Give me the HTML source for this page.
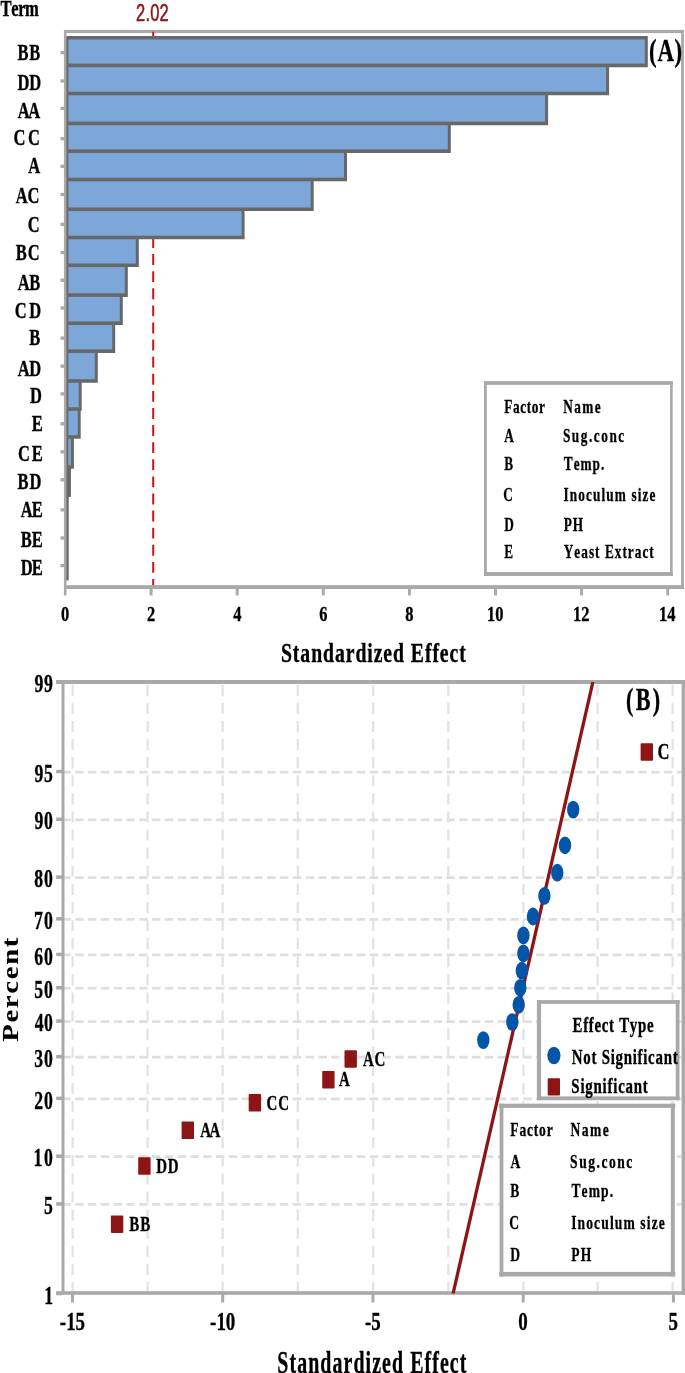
<!DOCTYPE html>
<html lang="en"><head><meta charset="utf-8"><title>Pareto chart and normal plot of standardized effects</title>
<style>
html,body{margin:0;padding:0;background:#fff;}
body{width:685px;height:1373px;overflow:hidden;}
svg{display:block;font-family:"Liberation Serif", serif;font-kerning:none;}
</style></head><body>
<svg width="685" height="1373" viewBox="0 0 685 1373">
<rect width="685" height="1373" fill="#fff"/>
<g id="chartA">
<rect x="64.00" y="29.90" width="620.00" height="3.20" fill="#a9a9a9"/>
<rect x="64.00" y="585.15" width="620.00" height="3.90" fill="#a9a9a9"/>
<rect x="63.90" y="30.00" width="2.60" height="565.50" fill="#a9a9a9"/>
<rect x="681.10" y="30.00" width="2.80" height="559.00" fill="#a9a9a9"/>
<line x1="153.2" y1="31.8" x2="153.2" y2="585.2" stroke="#d0121a" stroke-width="2" stroke-dasharray="10.9 6.2"/>
<rect x="60.50" y="51.05" width="4.00" height="3.30" fill="#a9a9a9"/>
<rect x="60.50" y="79.25" width="4.00" height="3.30" fill="#a9a9a9"/>
<rect x="60.50" y="106.75" width="4.00" height="3.30" fill="#a9a9a9"/>
<rect x="60.50" y="137.05" width="4.00" height="3.30" fill="#a9a9a9"/>
<rect x="60.50" y="164.65" width="4.00" height="3.30" fill="#a9a9a9"/>
<rect x="60.50" y="192.85" width="4.00" height="3.30" fill="#a9a9a9"/>
<rect x="60.50" y="222.75" width="4.00" height="3.30" fill="#a9a9a9"/>
<rect x="60.50" y="250.85" width="4.00" height="3.30" fill="#a9a9a9"/>
<rect x="60.50" y="278.55" width="4.00" height="3.30" fill="#a9a9a9"/>
<rect x="60.50" y="306.35" width="4.00" height="3.30" fill="#a9a9a9"/>
<rect x="60.50" y="336.45" width="4.00" height="3.30" fill="#a9a9a9"/>
<rect x="60.50" y="364.55" width="4.00" height="3.30" fill="#a9a9a9"/>
<rect x="60.50" y="392.25" width="4.00" height="3.30" fill="#a9a9a9"/>
<rect x="60.50" y="422.15" width="4.00" height="3.30" fill="#a9a9a9"/>
<rect x="60.50" y="450.15" width="4.00" height="3.30" fill="#a9a9a9"/>
<rect x="60.50" y="478.15" width="4.00" height="3.30" fill="#a9a9a9"/>
<rect x="60.50" y="508.15" width="4.00" height="3.30" fill="#a9a9a9"/>
<rect x="60.50" y="536.35" width="4.00" height="3.30" fill="#a9a9a9"/>
<rect x="60.50" y="563.95" width="4.00" height="3.30" fill="#a9a9a9"/>
<text transform="translate(60.90,621.00) scale(0.76,1)" font-size="21.6" font-weight="bold" fill="#000" stroke="#000" stroke-width="0.32" vector-effect="non-scaling-stroke">0</text>
<rect x="149.65" y="586.00" width="2.90" height="9.50" fill="#a9a9a9"/>
<text transform="translate(147.00,621.00) scale(0.76,1)" font-size="21.6" font-weight="bold" fill="#000" stroke="#000" stroke-width="0.32" vector-effect="non-scaling-stroke">2</text>
<rect x="235.75" y="586.00" width="2.90" height="9.50" fill="#a9a9a9"/>
<text transform="translate(233.14,621.00) scale(0.76,1)" font-size="21.6" font-weight="bold" fill="#000" stroke="#000" stroke-width="0.32" vector-effect="non-scaling-stroke">4</text>
<rect x="321.85" y="586.00" width="2.90" height="9.50" fill="#a9a9a9"/>
<text transform="translate(319.16,621.00) scale(0.76,1)" font-size="21.6" font-weight="bold" fill="#000" stroke="#000" stroke-width="0.32" vector-effect="non-scaling-stroke">6</text>
<rect x="407.95" y="586.00" width="2.90" height="9.50" fill="#a9a9a9"/>
<text transform="translate(405.30,621.00) scale(0.76,1)" font-size="21.6" font-weight="bold" fill="#000" stroke="#000" stroke-width="0.32" vector-effect="non-scaling-stroke">8</text>
<rect x="494.05" y="586.00" width="2.90" height="9.50" fill="#a9a9a9"/>
<text transform="translate(486.95,621.00) scale(0.76,1)" font-size="21.6" font-weight="bold" fill="#000" stroke="#000" stroke-width="0.32" vector-effect="non-scaling-stroke">10</text>
<rect x="580.15" y="586.00" width="2.90" height="9.50" fill="#a9a9a9"/>
<text transform="translate(573.09,621.00) scale(0.76,1)" font-size="21.6" font-weight="bold" fill="#000" stroke="#000" stroke-width="0.32" vector-effect="non-scaling-stroke">12</text>
<rect x="666.25" y="586.00" width="2.90" height="9.50" fill="#a9a9a9"/>
<text transform="translate(658.99,621.00) scale(0.76,1)" font-size="21.6" font-weight="bold" fill="#000" stroke="#000" stroke-width="0.32" vector-effect="non-scaling-stroke">14</text>
<path d="M66.3,35.90H647.80V67.20H609.10V95.30H548.10V125.20H450.80V153.00H347.00V181.30H313.70V211.10H244.60V239.30H138.80V267.10H127.80V296.90H122.80V325.00H115.20V353.00H97.80V382.80H81.70V410.80H80.70V438.80H73.90V468.80H70.90V497.00H68.70V525.30H68.70V553.80H68.70V580.50H66.3Z" fill="#686868"/>
<rect x="68.40" y="39.50" width="576.40" height="24.10" fill="#7da7d9"/>
<rect x="68.40" y="67.20" width="537.70" height="24.50" fill="#7da7d9"/>
<rect x="68.40" y="95.30" width="476.70" height="26.30" fill="#7da7d9"/>
<rect x="68.40" y="125.20" width="379.40" height="24.20" fill="#7da7d9"/>
<rect x="68.40" y="153.00" width="275.60" height="24.70" fill="#7da7d9"/>
<rect x="68.40" y="181.30" width="242.30" height="26.20" fill="#7da7d9"/>
<rect x="68.40" y="211.10" width="173.20" height="24.60" fill="#7da7d9"/>
<rect x="68.40" y="239.30" width="67.40" height="24.20" fill="#7da7d9"/>
<rect x="68.40" y="267.10" width="56.40" height="26.20" fill="#7da7d9"/>
<rect x="68.40" y="296.90" width="51.40" height="24.50" fill="#7da7d9"/>
<rect x="68.40" y="325.00" width="43.80" height="24.40" fill="#7da7d9"/>
<rect x="68.40" y="353.00" width="26.40" height="26.20" fill="#7da7d9"/>
<rect x="68.40" y="382.80" width="10.30" height="24.40" fill="#7da7d9"/>
<rect x="68.40" y="410.80" width="9.30" height="24.40" fill="#7da7d9"/>
<rect x="68.40" y="438.80" width="2.50" height="26.40" fill="#7da7d9"/>
<text transform="translate(17.53,59.90) scale(0.7,1)" font-size="23.6" font-weight="bold" fill="#000" stroke="#000" stroke-width="0.32" vector-effect="non-scaling-stroke" letter-spacing="0.852">BB</text>
<text transform="translate(17.51,90.20) scale(0.7,1)" font-size="23.6" font-weight="bold" fill="#000" stroke="#000" stroke-width="0.32" vector-effect="non-scaling-stroke" letter-spacing="-0.091">DD</text>
<text transform="translate(17.64,117.60) scale(0.7,1)" font-size="23.6" font-weight="bold" fill="#000" stroke="#000" stroke-width="0.32" vector-effect="non-scaling-stroke" letter-spacing="-1.826">AA</text>
<text transform="translate(13.39,145.30) scale(0.7,1)" font-size="23.6" font-weight="bold" fill="#000" stroke="#000" stroke-width="0.32" vector-effect="non-scaling-stroke" letter-spacing="3.864">CC</text>
<text transform="translate(28.29,173.20) scale(0.7,1)" font-size="23.6" font-weight="bold" fill="#000" stroke="#000" stroke-width="0.32" vector-effect="non-scaling-stroke">A</text>
<text transform="translate(15.84,203.40) scale(0.7,1)" font-size="23.6" font-weight="bold" fill="#000" stroke="#000" stroke-width="0.32" vector-effect="non-scaling-stroke" letter-spacing="-0.201">AC</text>
<text transform="translate(27.63,231.60) scale(0.7,1)" font-size="23.6" font-weight="bold" fill="#000" stroke="#000" stroke-width="0.32" vector-effect="non-scaling-stroke">C</text>
<text transform="translate(15.73,259.50) scale(0.7,1)" font-size="23.6" font-weight="bold" fill="#000" stroke="#000" stroke-width="0.32" vector-effect="non-scaling-stroke" letter-spacing="1.262">BC</text>
<text transform="translate(17.64,289.70) scale(0.7,1)" font-size="23.6" font-weight="bold" fill="#000" stroke="#000" stroke-width="0.32" vector-effect="non-scaling-stroke" letter-spacing="-0.611">AB</text>
<text transform="translate(14.79,317.60) scale(0.7,1)" font-size="23.6" font-weight="bold" fill="#000" stroke="#000" stroke-width="0.32" vector-effect="non-scaling-stroke" letter-spacing="3.790">CD</text>
<text transform="translate(29.14,345.30) scale(0.7,1)" font-size="23.6" font-weight="bold" fill="#000" stroke="#000" stroke-width="0.32" vector-effect="non-scaling-stroke">B</text>
<text transform="translate(17.64,375.50) scale(0.7,1)" font-size="23.6" font-weight="bold" fill="#000" stroke="#000" stroke-width="0.32" vector-effect="non-scaling-stroke" letter-spacing="-0.275">AD</text>
<text transform="translate(29.98,403.20) scale(0.7,1)" font-size="23.6" font-weight="bold" fill="#000" stroke="#000" stroke-width="0.32" vector-effect="non-scaling-stroke">D</text>
<text transform="translate(31.73,431.30) scale(0.7,1)" font-size="23.6" font-weight="bold" fill="#000" stroke="#000" stroke-width="0.32" vector-effect="non-scaling-stroke">E</text>
<text transform="translate(17.99,461.30) scale(0.7,1)" font-size="23.6" font-weight="bold" fill="#000" stroke="#000" stroke-width="0.32" vector-effect="non-scaling-stroke" letter-spacing="2.578">CE</text>
<text transform="translate(17.53,489.00) scale(0.7,1)" font-size="23.6" font-weight="bold" fill="#000" stroke="#000" stroke-width="0.32" vector-effect="non-scaling-stroke" letter-spacing="1.189">BD</text>
<text transform="translate(20.74,517.10) scale(0.7,1)" font-size="23.6" font-weight="bold" fill="#000" stroke="#000" stroke-width="0.32" vector-effect="non-scaling-stroke" letter-spacing="-1.344">AE</text>
<text transform="translate(20.83,546.80) scale(0.7,1)" font-size="23.6" font-weight="bold" fill="#000" stroke="#000" stroke-width="0.32" vector-effect="non-scaling-stroke" letter-spacing="-0.166">BE</text>
<text transform="translate(20.81,575.20) scale(0.7,1)" font-size="23.6" font-weight="bold" fill="#000" stroke="#000" stroke-width="0.32" vector-effect="non-scaling-stroke" letter-spacing="-1.445">DE</text>
<text transform="translate(0.54,15.70) scale(0.7,1)" font-size="23.6" font-weight="bold" fill="#000" stroke="#000" stroke-width="0.32" vector-effect="non-scaling-stroke" letter-spacing="-0.526">Term</text>
<text transform="translate(136.07,21.00) scale(0.7,1)" font-size="23.6" font-weight="normal" fill="#8e1515" stroke="#8e1515" stroke-width="0.5" vector-effect="non-scaling-stroke" font-family='"Liberation Sans", sans-serif' letter-spacing="0.242">2.02</text>
<text transform="translate(649.10,60.60) scale(0.72,1)" font-size="31.7" font-weight="bold" fill="#000" stroke="#000" stroke-width="0.32" vector-effect="non-scaling-stroke" letter-spacing="0.988">(A)</text>
<text transform="translate(280.95,662.20) scale(0.7,1)" font-size="28.2" font-weight="bold" fill="#000" stroke="#000" stroke-width="0.32" vector-effect="non-scaling-stroke" letter-spacing="1.319">Standardized Effect</text>
<rect x="485.4" y="383" width="186" height="191" fill="#fff"/>
<rect x="484.00" y="381.15" width="188.80" height="3.70" fill="#a9a9a9"/>
<rect x="484.00" y="572.05" width="188.80" height="3.90" fill="#a9a9a9"/>
<rect x="484.00" y="381.20" width="2.80" height="194.80" fill="#a9a9a9"/>
<rect x="670.10" y="381.20" width="2.60" height="194.80" fill="#a9a9a9"/>
<text transform="translate(504.27,412.50) scale(0.7,1)" font-size="19" font-weight="bold" fill="#000" stroke="#000" stroke-width="0.25" vector-effect="non-scaling-stroke" letter-spacing="0.844">Factor</text>
<text transform="translate(563.35,412.50) scale(0.7,1)" font-size="19" font-weight="bold" fill="#000" stroke="#000" stroke-width="0.25" vector-effect="non-scaling-stroke" letter-spacing="1.934">Name</text>
<text transform="translate(504.37,442.40) scale(0.7,1)" font-size="19" font-weight="bold" fill="#000" stroke="#000" stroke-width="0.25" vector-effect="non-scaling-stroke">A</text>
<text transform="translate(562.89,442.40) scale(0.7,1)" font-size="19" font-weight="bold" fill="#000" stroke="#000" stroke-width="0.25" vector-effect="non-scaling-stroke" letter-spacing="2.208">Sug.conc</text>
<text transform="translate(504.28,469.80) scale(0.7,1)" font-size="19" font-weight="bold" fill="#000" stroke="#000" stroke-width="0.25" vector-effect="non-scaling-stroke">B</text>
<text transform="translate(563.79,469.80) scale(0.7,1)" font-size="19" font-weight="bold" fill="#000" stroke="#000" stroke-width="0.25" vector-effect="non-scaling-stroke" letter-spacing="1.399">Temp.</text>
<text transform="translate(503.15,500.50) scale(0.7,1)" font-size="19" font-weight="bold" fill="#000" stroke="#000" stroke-width="0.25" vector-effect="non-scaling-stroke">C</text>
<text transform="translate(563.55,500.50) scale(0.7,1)" font-size="19" font-weight="bold" fill="#000" stroke="#000" stroke-width="0.25" vector-effect="non-scaling-stroke" letter-spacing="1.583">Inoculum size</text>
<text transform="translate(504.27,530.50) scale(0.7,1)" font-size="19" font-weight="bold" fill="#000" stroke="#000" stroke-width="0.25" vector-effect="non-scaling-stroke">D</text>
<text transform="translate(563.77,530.50) scale(0.7,1)" font-size="19" font-weight="bold" fill="#000" stroke="#000" stroke-width="0.25" vector-effect="non-scaling-stroke" letter-spacing="1.113">PH</text>
<text transform="translate(504.27,558.40) scale(0.7,1)" font-size="19" font-weight="bold" fill="#000" stroke="#000" stroke-width="0.25" vector-effect="non-scaling-stroke">E</text>
<text transform="translate(563.77,558.40) scale(0.7,1)" font-size="19" font-weight="bold" fill="#000" stroke="#000" stroke-width="0.25" vector-effect="non-scaling-stroke" letter-spacing="1.449">Yeast Extract</text>
</g>
<g id="chartB">
<line x1="62.5" y1="772.03" x2="681.5" y2="772.03" stroke="#dedede" stroke-width="2.7" stroke-dasharray="8.3 4.5"/>
<line x1="62.5" y1="819.79" x2="681.5" y2="819.79" stroke="#dedede" stroke-width="2.7" stroke-dasharray="8.3 4.5"/>
<line x1="62.5" y1="877.62" x2="681.5" y2="877.62" stroke="#dedede" stroke-width="2.7" stroke-dasharray="8.3 4.5"/>
<line x1="62.5" y1="919.32" x2="681.5" y2="919.32" stroke="#dedede" stroke-width="2.7" stroke-dasharray="8.3 4.5"/>
<line x1="62.5" y1="954.95" x2="681.5" y2="954.95" stroke="#dedede" stroke-width="2.7" stroke-dasharray="8.3 4.5"/>
<line x1="62.5" y1="988.25" x2="681.5" y2="988.25" stroke="#dedede" stroke-width="2.7" stroke-dasharray="8.3 4.5"/>
<line x1="62.5" y1="1021.55" x2="681.5" y2="1021.55" stroke="#dedede" stroke-width="2.7" stroke-dasharray="8.3 4.5"/>
<line x1="62.5" y1="1057.18" x2="681.5" y2="1057.18" stroke="#dedede" stroke-width="2.7" stroke-dasharray="8.3 4.5"/>
<line x1="62.5" y1="1098.88" x2="681.5" y2="1098.88" stroke="#dedede" stroke-width="2.7" stroke-dasharray="8.3 4.5"/>
<line x1="62.5" y1="1156.71" x2="681.5" y2="1156.71" stroke="#dedede" stroke-width="2.7" stroke-dasharray="8.3 4.5"/>
<line x1="62.5" y1="1204.47" x2="681.5" y2="1204.47" stroke="#dedede" stroke-width="2.7" stroke-dasharray="8.3 4.5"/>
<line x1="72.60" y1="684.7" x2="72.60" y2="1291.5" stroke="#e2e2e2" stroke-width="2.2" stroke-dasharray="11.1 7"/>
<line x1="147.60" y1="684.7" x2="147.60" y2="1291.5" stroke="#e2e2e2" stroke-width="2.2" stroke-dasharray="11.1 7"/>
<line x1="222.60" y1="684.7" x2="222.60" y2="1291.5" stroke="#e2e2e2" stroke-width="2.2" stroke-dasharray="11.1 7"/>
<line x1="297.80" y1="684.7" x2="297.80" y2="1291.5" stroke="#e2e2e2" stroke-width="2.2" stroke-dasharray="11.1 7"/>
<line x1="373.20" y1="684.7" x2="373.20" y2="1291.5" stroke="#e2e2e2" stroke-width="2.2" stroke-dasharray="11.1 7"/>
<line x1="448.30" y1="684.7" x2="448.30" y2="1291.5" stroke="#e2e2e2" stroke-width="2.2" stroke-dasharray="11.1 7"/>
<line x1="523.40" y1="684.7" x2="523.40" y2="1291.5" stroke="#e2e2e2" stroke-width="2.2" stroke-dasharray="11.1 7"/>
<line x1="597.60" y1="684.7" x2="597.60" y2="1291.5" stroke="#e2e2e2" stroke-width="2.2" stroke-dasharray="11.1 7"/>
<line x1="672.60" y1="684.7" x2="672.60" y2="1291.5" stroke="#e2e2e2" stroke-width="2.2" stroke-dasharray="11.1 7"/>
<rect x="56.20" y="680.00" width="628.80" height="4.00" fill="#a9a9a9"/>
<rect x="56.20" y="1291.20" width="628.80" height="3.60" fill="#a9a9a9"/>
<rect x="61.50" y="680.00" width="3.00" height="614.80" fill="#a9a9a9"/>
<rect x="681.60" y="680.00" width="3.40" height="614.80" fill="#a9a9a9"/>
<rect x="56.20" y="680.20" width="5.80" height="3.50" fill="#a9a9a9"/>
<text transform="translate(34.42,692.25) scale(0.72,1)" font-size="24.6" font-weight="bold" fill="#000" stroke="#000" stroke-width="0.3" vector-effect="non-scaling-stroke" letter-spacing="0.989">99</text>
<rect x="56.20" y="769.78" width="5.80" height="3.50" fill="#a9a9a9"/>
<text transform="translate(34.42,781.73) scale(0.72,1)" font-size="24.6" font-weight="bold" fill="#000" stroke="#000" stroke-width="0.3" vector-effect="non-scaling-stroke" letter-spacing="1.001">95</text>
<rect x="56.20" y="817.54" width="5.80" height="3.50" fill="#a9a9a9"/>
<text transform="translate(34.42,829.49) scale(0.72,1)" font-size="24.6" font-weight="bold" fill="#000" stroke="#000" stroke-width="0.3" vector-effect="non-scaling-stroke" letter-spacing="1.037">90</text>
<rect x="56.20" y="875.37" width="5.80" height="3.50" fill="#a9a9a9"/>
<text transform="translate(34.31,887.32) scale(0.72,1)" font-size="24.6" font-weight="bold" fill="#000" stroke="#000" stroke-width="0.3" vector-effect="non-scaling-stroke" letter-spacing="1.181">80</text>
<rect x="56.20" y="917.07" width="5.80" height="3.50" fill="#a9a9a9"/>
<text transform="translate(33.89,929.02) scale(0.72,1)" font-size="24.6" font-weight="bold" fill="#000" stroke="#000" stroke-width="0.3" vector-effect="non-scaling-stroke" letter-spacing="1.770">70</text>
<rect x="56.20" y="952.70" width="5.80" height="3.50" fill="#a9a9a9"/>
<text transform="translate(34.29,964.65) scale(0.72,1)" font-size="24.6" font-weight="bold" fill="#000" stroke="#000" stroke-width="0.3" vector-effect="non-scaling-stroke" letter-spacing="1.206">60</text>
<rect x="56.20" y="986.00" width="5.80" height="3.50" fill="#a9a9a9"/>
<text transform="translate(34.19,997.95) scale(0.72,1)" font-size="24.6" font-weight="bold" fill="#000" stroke="#000" stroke-width="0.3" vector-effect="non-scaling-stroke" letter-spacing="1.350">50</text>
<rect x="56.20" y="1019.30" width="5.80" height="3.50" fill="#a9a9a9"/>
<text transform="translate(34.66,1031.25) scale(0.72,1)" font-size="24.6" font-weight="bold" fill="#000" stroke="#000" stroke-width="0.3" vector-effect="non-scaling-stroke" letter-spacing="0.701">40</text>
<rect x="56.20" y="1054.93" width="5.80" height="3.50" fill="#a9a9a9"/>
<text transform="translate(34.23,1066.88) scale(0.72,1)" font-size="24.6" font-weight="bold" fill="#000" stroke="#000" stroke-width="0.3" vector-effect="non-scaling-stroke" letter-spacing="1.290">30</text>
<rect x="56.20" y="1096.63" width="5.80" height="3.50" fill="#a9a9a9"/>
<text transform="translate(34.16,1108.58) scale(0.72,1)" font-size="24.6" font-weight="bold" fill="#000" stroke="#000" stroke-width="0.3" vector-effect="non-scaling-stroke" letter-spacing="1.398">20</text>
<rect x="56.20" y="1154.46" width="5.80" height="3.50" fill="#a9a9a9"/>
<text transform="translate(33.48,1166.41) scale(0.72,1)" font-size="24.6" font-weight="bold" fill="#000" stroke="#000" stroke-width="0.3" vector-effect="non-scaling-stroke" letter-spacing="2.335">10</text>
<rect x="56.20" y="1202.22" width="5.80" height="3.50" fill="#a9a9a9"/>
<text transform="translate(43.99,1214.17) scale(0.72,1)" font-size="24.6" font-weight="bold" fill="#000" stroke="#000" stroke-width="0.3" vector-effect="non-scaling-stroke">5</text>
<rect x="56.20" y="1291.80" width="5.80" height="3.50" fill="#a9a9a9"/>
<text transform="translate(44.26,1303.75) scale(0.72,1)" font-size="24.6" font-weight="bold" fill="#000" stroke="#000" stroke-width="0.3" vector-effect="non-scaling-stroke">1</text>
<rect x="70.95" y="1293.00" width="3.00" height="9.50" fill="#a9a9a9"/>
<text transform="translate(59.83,1329.90) scale(0.77,1)" font-size="24.6" font-weight="bold" fill="#000" stroke="#000" stroke-width="0.32" vector-effect="non-scaling-stroke">-15</text>
<rect x="221.20" y="1293.00" width="3.00" height="9.50" fill="#a9a9a9"/>
<text transform="translate(210.09,1329.90) scale(0.77,1)" font-size="24.6" font-weight="bold" fill="#000" stroke="#000" stroke-width="0.32" vector-effect="non-scaling-stroke">-10</text>
<rect x="371.45" y="1293.00" width="3.00" height="9.50" fill="#a9a9a9"/>
<text transform="translate(365.06,1329.90) scale(0.77,1)" font-size="24.6" font-weight="bold" fill="#000" stroke="#000" stroke-width="0.32" vector-effect="non-scaling-stroke">-5</text>
<rect x="521.70" y="1293.00" width="3.00" height="9.50" fill="#a9a9a9"/>
<text transform="translate(518.26,1329.90) scale(0.77,1)" font-size="24.6" font-weight="bold" fill="#000" stroke="#000" stroke-width="0.32" vector-effect="non-scaling-stroke">0</text>
<rect x="671.95" y="1293.00" width="3.00" height="9.50" fill="#a9a9a9"/>
<text transform="translate(668.48,1329.90) scale(0.77,1)" font-size="24.6" font-weight="bold" fill="#000" stroke="#000" stroke-width="0.32" vector-effect="non-scaling-stroke">5</text>
<line x1="453.10" y1="1293.5" x2="592.90" y2="682" stroke="#8e1515" stroke-width="3.3"/>
<ellipse cx="483.3" cy="1040.1" rx="6.2" ry="8.9" fill="#0455a8"/>
<ellipse cx="512.3" cy="1022.1" rx="6.2" ry="8.9" fill="#0455a8"/>
<ellipse cx="518.7" cy="1004.8" rx="6.2" ry="8.9" fill="#0455a8"/>
<ellipse cx="520.3" cy="987.8" rx="6.2" ry="8.9" fill="#0455a8"/>
<ellipse cx="521.8" cy="970.7" rx="6.2" ry="8.9" fill="#0455a8"/>
<ellipse cx="523.4" cy="953.4" rx="6.2" ry="8.9" fill="#0455a8"/>
<ellipse cx="523.4" cy="935.4" rx="6.2" ry="8.9" fill="#0455a8"/>
<ellipse cx="533.0" cy="916.5" rx="6.2" ry="8.9" fill="#0455a8"/>
<ellipse cx="544.4" cy="895.9" rx="6.2" ry="8.9" fill="#0455a8"/>
<ellipse cx="557.3" cy="872.7" rx="6.2" ry="8.9" fill="#0455a8"/>
<ellipse cx="565.0" cy="845.3" rx="6.2" ry="8.9" fill="#0455a8"/>
<ellipse cx="573.2" cy="809.6" rx="6.2" ry="8.9" fill="#0455a8"/>
<rect x="110.9" y="1215.4" width="12.4" height="17.5" rx="0.8" fill="#8e1515"/>
<text transform="translate(129.25,1230.81) scale(0.7,1)" font-size="21.4" font-weight="bold" fill="#000" stroke="#000" stroke-width="0.3" vector-effect="non-scaling-stroke" letter-spacing="1.546">BB</text>
<rect x="138.2" y="1157.2" width="12.4" height="17.5" rx="0.8" fill="#8e1515"/>
<text transform="translate(156.14,1172.63) scale(0.7,1)" font-size="21.4" font-weight="bold" fill="#000" stroke="#000" stroke-width="0.3" vector-effect="non-scaling-stroke" letter-spacing="1.227">DD</text>
<rect x="181.6" y="1121.5" width="12.4" height="17.5" rx="0.8" fill="#8e1515"/>
<text transform="translate(200.25,1136.95) scale(0.7,1)" font-size="21.4" font-weight="bold" fill="#000" stroke="#000" stroke-width="0.3" vector-effect="non-scaling-stroke" letter-spacing="-2.114">AA</text>
<rect x="248.7" y="1094.1" width="12.4" height="17.5" rx="0.8" fill="#8e1515"/>
<text transform="translate(266.57,1109.50) scale(0.7,1)" font-size="21.4" font-weight="bold" fill="#000" stroke="#000" stroke-width="0.3" vector-effect="non-scaling-stroke" letter-spacing="1.338">CC</text>
<rect x="322.2" y="1070.9" width="12.4" height="17.5" rx="0.8" fill="#8e1515"/>
<text transform="translate(338.95,1086.34) scale(0.7,1)" font-size="21.4" font-weight="bold" fill="#000" stroke="#000" stroke-width="0.3" vector-effect="non-scaling-stroke">A</text>
<rect x="344.5" y="1050.3" width="12.4" height="17.5" rx="0.8" fill="#8e1515"/>
<text transform="translate(362.95,1065.73) scale(0.7,1)" font-size="21.4" font-weight="bold" fill="#000" stroke="#000" stroke-width="0.3" vector-effect="non-scaling-stroke" letter-spacing="1.073">AC</text>
<rect x="640.6" y="743.3" width="12.4" height="17.5" rx="0.8" fill="#8e1515"/>
<text transform="translate(657.49,758.89) scale(0.72,1)" font-size="23" font-weight="bold" fill="#000" stroke="#000" stroke-width="0.3" vector-effect="non-scaling-stroke">C</text>
<text transform="translate(626.03,710.40) scale(0.7,1)" font-size="31.6" font-weight="bold" fill="#000" stroke="#000" stroke-width="0.32" vector-effect="non-scaling-stroke" letter-spacing="3.256">(B)</text>
<text transform="translate(277.34,1372.70) scale(0.63,1)" font-size="31.5" font-weight="bold" fill="#000" stroke="#000" stroke-width="0.32" vector-effect="non-scaling-stroke" letter-spacing="1.748">Standardized Effect</text>
<text transform="translate(18.10,1041.79) rotate(-90) scale(1.25,1)" font-size="23" font-weight="bold" fill="#000" stroke="#000" stroke-width="0.12" vector-effect="non-scaling-stroke" letter-spacing="1.340">Percent</text>
<rect x="539" y="1002" width="138.6" height="96.3" fill="#fff"/>
<rect x="537.00" y="1000.10" width="142.60" height="3.80" fill="#a9a9a9"/>
<rect x="537.00" y="1096.40" width="142.60" height="3.80" fill="#a9a9a9"/>
<rect x="536.90" y="1000.10" width="4.20" height="100.10" fill="#a9a9a9"/>
<rect x="675.70" y="1000.10" width="3.80" height="100.10" fill="#a9a9a9"/>
<text transform="translate(572.55,1032.00) scale(0.7,1)" font-size="21.3" font-weight="bold" fill="#000" stroke="#000" stroke-width="0.32" vector-effect="non-scaling-stroke" letter-spacing="0.990">Effect Type</text>
<ellipse cx="553.9" cy="1055.5" rx="6.6" ry="8.8" fill="#0455a8"/>
<text transform="translate(571.82,1064.30) scale(0.7,1)" font-size="21.3" font-weight="bold" fill="#000" stroke="#000" stroke-width="0.32" vector-effect="non-scaling-stroke" letter-spacing="1.038">Not Significant</text>
<rect x="547.7" y="1078.3" width="12.3" height="17.3" rx="0.8" fill="#8e1515"/>
<text transform="translate(571.31,1092.80) scale(0.7,1)" font-size="21.3" font-weight="bold" fill="#000" stroke="#000" stroke-width="0.32" vector-effect="non-scaling-stroke" letter-spacing="1.114">Significant</text>
<rect x="501.5" y="1105.8" width="171.3" height="168.4" fill="#fff"/>
<rect x="499.20" y="1103.70" width="176.10" height="4.20" fill="#a9a9a9"/>
<rect x="499.20" y="1271.90" width="176.10" height="4.60" fill="#a9a9a9"/>
<rect x="499.60" y="1103.70" width="3.80" height="172.80" fill="#a9a9a9"/>
<rect x="670.80" y="1103.70" width="4.00" height="172.80" fill="#a9a9a9"/>
<text transform="translate(510.37,1135.80) scale(0.7,1)" font-size="19.4" font-weight="bold" fill="#000" stroke="#000" stroke-width="0.25" vector-effect="non-scaling-stroke" letter-spacing="1.106">Factor</text>
<text transform="translate(570.54,1135.80) scale(0.7,1)" font-size="19.4" font-weight="bold" fill="#000" stroke="#000" stroke-width="0.25" vector-effect="non-scaling-stroke" letter-spacing="2.035">Name</text>
<text transform="translate(510.47,1167.80) scale(0.7,1)" font-size="19.4" font-weight="bold" fill="#000" stroke="#000" stroke-width="0.25" vector-effect="non-scaling-stroke">A</text>
<text transform="translate(570.08,1167.80) scale(0.7,1)" font-size="19.4" font-weight="bold" fill="#000" stroke="#000" stroke-width="0.25" vector-effect="non-scaling-stroke" letter-spacing="2.158">Sug.conc</text>
<text transform="translate(510.37,1196.90) scale(0.7,1)" font-size="19.4" font-weight="bold" fill="#000" stroke="#000" stroke-width="0.25" vector-effect="non-scaling-stroke">B</text>
<text transform="translate(571.39,1196.90) scale(0.7,1)" font-size="19.4" font-weight="bold" fill="#000" stroke="#000" stroke-width="0.25" vector-effect="non-scaling-stroke" letter-spacing="1.594">Temp.</text>
<text transform="translate(509.14,1228.80) scale(0.7,1)" font-size="19.4" font-weight="bold" fill="#000" stroke="#000" stroke-width="0.25" vector-effect="non-scaling-stroke">C</text>
<text transform="translate(571.14,1228.80) scale(0.7,1)" font-size="19.4" font-weight="bold" fill="#000" stroke="#000" stroke-width="0.25" vector-effect="non-scaling-stroke" letter-spacing="1.590">Inoculum size</text>
<text transform="translate(510.36,1260.70) scale(0.7,1)" font-size="19.4" font-weight="bold" fill="#000" stroke="#000" stroke-width="0.25" vector-effect="non-scaling-stroke">D</text>
<text transform="translate(571.37,1260.70) scale(0.7,1)" font-size="19.4" font-weight="bold" fill="#000" stroke="#000" stroke-width="0.25" vector-effect="non-scaling-stroke" letter-spacing="1.713">PH</text>
</g>
</svg>
</body></html>
